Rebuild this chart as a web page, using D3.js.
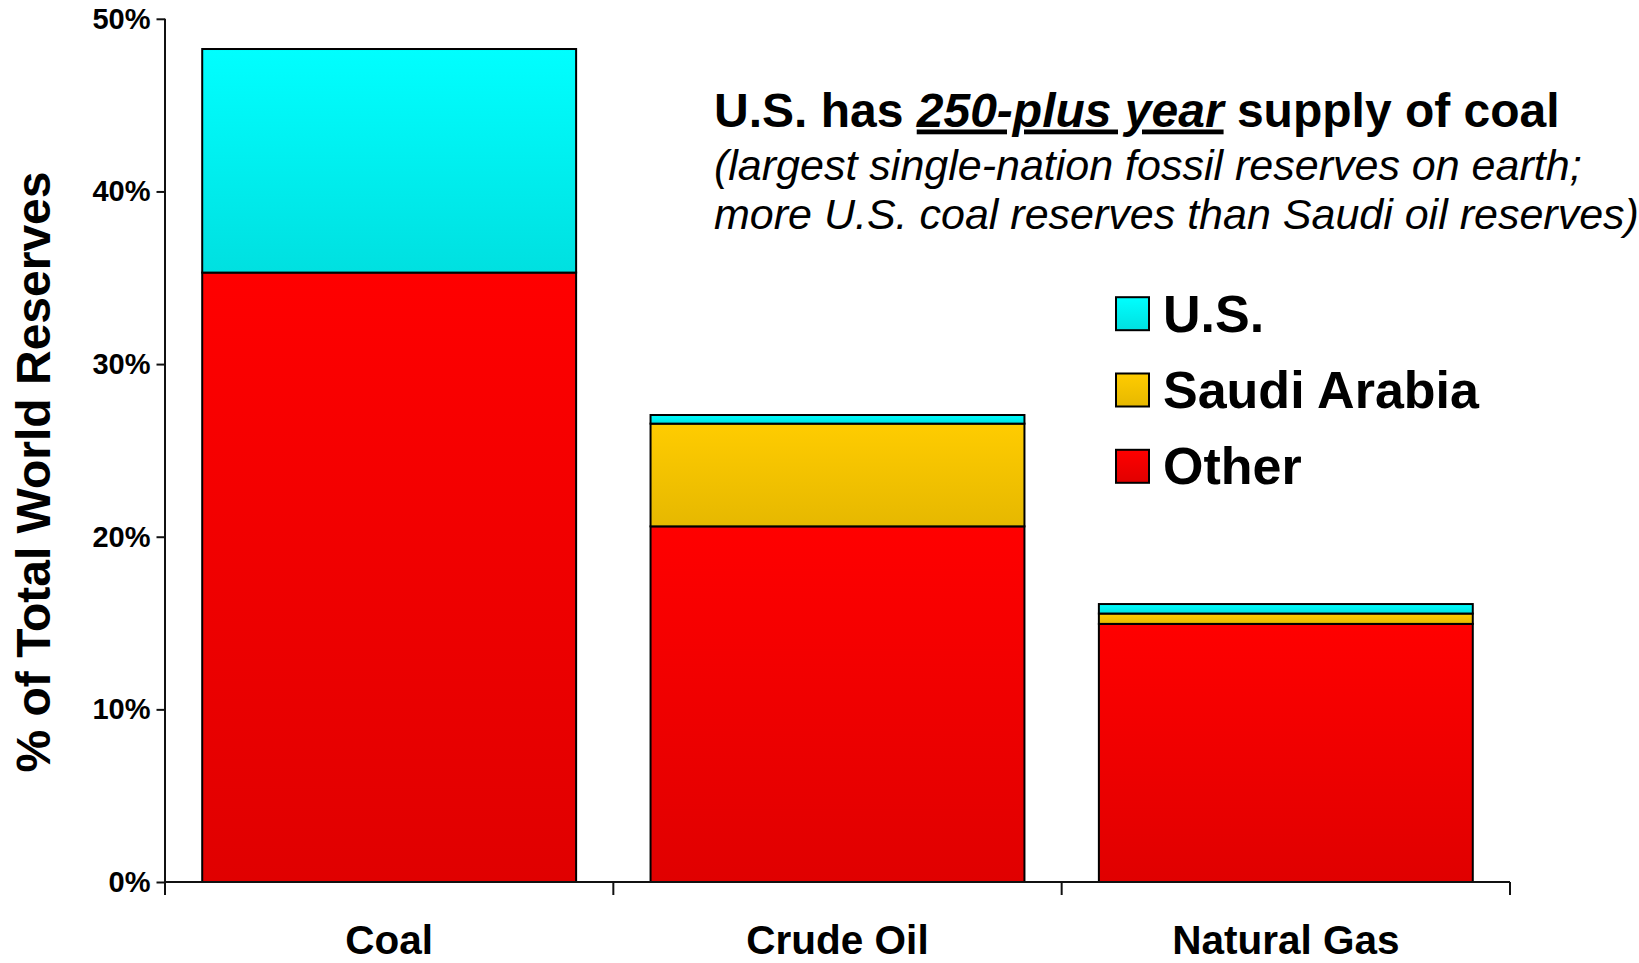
<!DOCTYPE html>
<html>
<head>
<meta charset="utf-8">
<script src="https://cdn.jsdelivr.net/npm/d3@7"></script>
<style>
  html, body { margin: 0; padding: 0; background: #fff; }
  svg { display: block; font-family: "Liberation Sans", Arial, sans-serif; }
</style>
</head>
<body>
<svg id="chart" width="1639" height="963"></svg>
<script>
// ---- data ----
const categories = ["Coal", "Crude Oil", "Natural Gas"];
const seriesNames = ["Other", "Saudi Arabia", "U.S."];
const otherValues = [35.3, 20.6, 14.95];
const saudiValues = [0.0, 5.95, 0.6];
const usValues = [12.95, 0.5, 0.55];
const yTicks = [0, 10, 20, 30, 40, 50];
const legendOrder = ["U.S.", "Saudi Arabia", "Other"];

const colors = {
  "U.S.": ["#00FFFF", "#00E0E0"],
  "Saudi Arabia": ["#FFCC00", "#E6B800"],
  "Other": ["#FF0000", "#E00000"]
};

(function () {
const rows = categories.map((c, i) => ({
  cat: c, "Other": otherValues[i], "Saudi Arabia": saudiValues[i], "U.S.": usValues[i]
}));
const stacked = d3.stack().keys(seriesNames)(rows);

const svg = d3.select("#chart");
const mLeft = 165, mRight = 1510, mTop = 18.8, mBottom = 882;

const defs = svg.append("defs");
Object.entries(colors).forEach(([k, [c1, c2]], i) => {
  const g = defs.append("linearGradient").attr("id", "grad" + i)
    .attr("x1", 0).attr("y1", 0).attr("x2", 0).attr("y2", 1);
  g.append("stop").attr("offset", "0%").attr("stop-color", c1);
  g.append("stop").attr("offset", "100%").attr("stop-color", c2);
});
const gradId = k => "url(#grad" + Object.keys(colors).indexOf(k) + ")";

const x = d3.scaleBand().domain(categories).range([mLeft, mRight])
  .paddingInner(0.166).paddingOuter(0.083);
const y = d3.scaleLinear().domain([0, 50]).range([mBottom, mTop]);

// bars
stacked.forEach(layer => {
  svg.append("g").selectAll("rect")
    .data(layer.filter(d => d[1] - d[0] > 0))
    .join("rect")
    .attr("x", d => x(d.data.cat))
    .attr("width", x.bandwidth())
    .attr("y", d => y(d[1]))
    .attr("height", d => y(d[0]) - y(d[1]))
    .attr("fill", gradId(layer.key))
    .attr("stroke", "#000")
    .attr("stroke-width", 2);
});

// y axis
const yAxis = svg.append("g").attr("transform", `translate(${mLeft},0)`)
  .call(d3.axisLeft(y).tickValues(yTicks).tickFormat(d => d + "%").tickSize(8.5).tickPadding(6));
yAxis.select(".domain").attr("d", `M0,${mTop}V${mBottom + 13}`);
yAxis.selectAll("line, path").attr("stroke", "#111").attr("stroke-width", 2);
yAxis.selectAll("text").attr("font-size", 29).attr("font-weight", "bold")
  .attr("fill", "#000").attr("font-family", "Liberation Sans, Arial, sans-serif");

// x axis line + boundary ticks
const xAxis = svg.append("g");
xAxis.append("line").attr("x1", mLeft).attr("x2", mRight).attr("y1", mBottom).attr("y2", mBottom)
  .attr("stroke", "#111").attr("stroke-width", 2);
const step = x.step();
const bounds = d3.range(categories.length + 1).map(i => mLeft + i * step);
xAxis.selectAll("line.b").data(bounds).join("line").attr("class", "b")
  .attr("x1", d => d).attr("x2", d => d).attr("y1", mBottom).attr("y2", mBottom + 13)
  .attr("stroke", "#111").attr("stroke-width", 2);
xAxis.selectAll("text").data(categories).join("text")
  .attr("x", d => x(d) + x.bandwidth() / 2)
  .attr("y", 954)
  .attr("text-anchor", "middle")
  .attr("font-size", 40.5).attr("font-weight", "bold")
  .text(d => d);

// y title
svg.append("text")
  .attr("transform", `translate(50,472) rotate(-90)`)
  .attr("text-anchor", "middle")
  .attr("font-size", 48).attr("font-weight", "bold")
  .text("% of Total World Reserves");

// annotation
const t1 = svg.append("text").attr("x", 714).attr("y", 126.5)
  .attr("font-size", 48).attr("font-weight", "bold");
t1.append("tspan").text("U.S. has ");
t1.append("tspan").attr("font-style", "italic").attr("text-decoration", "underline").text("250-plus year");
t1.append("tspan").text(" supply of coal");

svg.append("text").attr("x", 714).attr("y", 180)
  .attr("font-size", 43).attr("font-style", "italic")
  .text("(largest single-nation fossil reserves on earth;");
svg.append("text").attr("x", 714).attr("y", 229)
  .attr("font-size", 43).attr("font-style", "italic")
  .text("more U.S. coal reserves than Saudi oil reserves)");

// legend
const legend = svg.append("g");
const legY = [313.7, 390, 466.3];
legendOrder.forEach((k, i) => {
  legend.append("rect").attr("x", 1116).attr("y", legY[i] - 16.5)
    .attr("width", 33).attr("height", 33)
    .attr("fill", gradId(k)).attr("stroke", "#000").attr("stroke-width", 2);
  legend.append("text").attr("x", 1163).attr("y", legY[i] + 18)
    .attr("font-size", 52).attr("font-weight", "bold").text(k);
});
})();
</script>
</body>
</html>
